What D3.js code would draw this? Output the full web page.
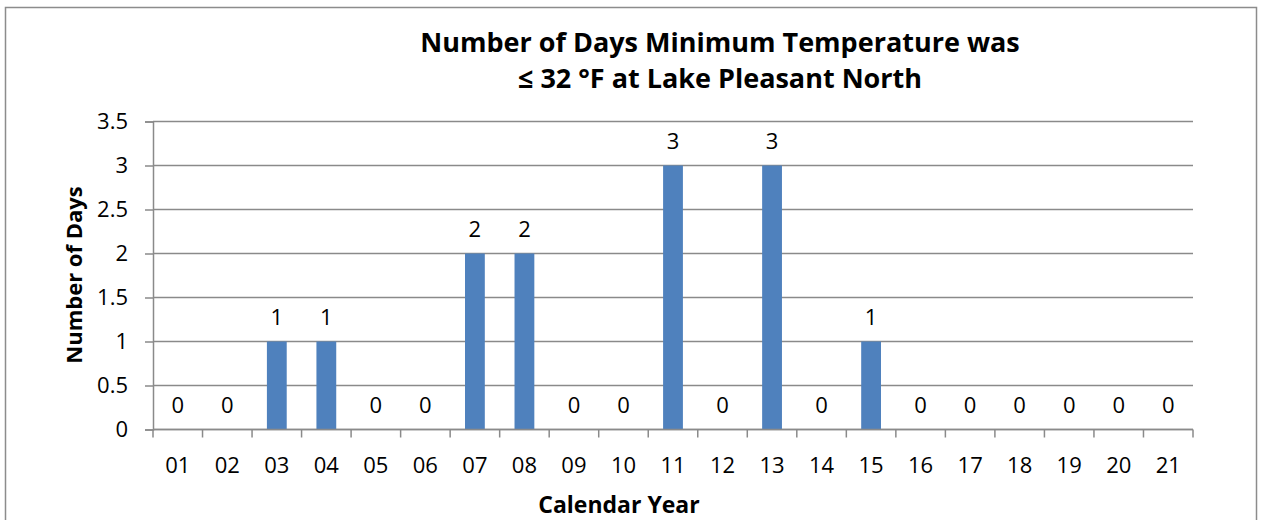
<!DOCTYPE html>
<html>
<head>
<meta charset="utf-8">
<script src="https://cdn.jsdelivr.net/npm/d3@7"></script>
<style>
    body { margin: 0; background: #fff; }
    text { font-family: "Open Sans", Calibri, sans-serif; fill: #000; }
</style>
</head>
<body>
<div class="canvas"></div>
<script>
// DATA
const years = ['01','02','03','04','05','06','07','08','09','10','11','12','13','14','15','16','17','18','19','20','21'];
const days = [0,0,1,1,0,0,2,2,0,0,3,0,3,0,1,0,0,0,0,0,0];
const yTicks = [0, 0.5, 1, 1.5, 2, 2.5, 3, 3.5];
const titleLines = ['Number of Days Minimum Temperature was', '\u2264 32 \u00B0F at Lake Pleasant North'];

const svgWidth = 1263;
const svgHeight = 520;

const svg = d3.select('.canvas')
    .append('svg')
    .attr('width', svgWidth)
    .attr('height', svgHeight);

// outer chart frame (bottom is cut off in the picture)
svg.append('rect')
    .attr('x', 5.5)
    .attr('y', 7.5)
    .attr('width', 1251)
    .attr('height', 530)
    .attr('fill', 'none')
    .attr('stroke', '#8c8c8c')
    .attr('stroke-width', 1.5);

const margin = { top: 121.5, right: 70, bottom: 90.5, left: 153 };
const graphWidth = svgWidth - margin.left - margin.right;
const graphHeight = svgHeight - margin.top - margin.bottom;

const graph = svg.append('g')
    .attr('transform', `translate(${margin.left}, ${margin.top})`);

// SCALES
const x = d3.scaleBand()
    .domain(years)
    .range([0, graphWidth])
    .paddingInner(0.6)
    .paddingOuter(0.3);

const y = d3.scaleLinear()
    .domain([0, 3.5])
    .range([graphHeight, 0]);

// gridlines
graph.append('g')
    .selectAll('line')
    .data(yTicks)
    .enter()
    .append('line')
        .attr('x1', 0)
        .attr('x2', graphWidth)
        .attr('y1', d => y(d))
        .attr('y2', d => y(d))
        .attr('stroke', '#8a8a8a')
        .attr('stroke-width', 1.5);

// bars
graph.selectAll('rect.bar')
    .data(days)
    .enter()
    .append('rect')
        .attr('class', 'bar')
        .attr('x', (d, i) => x(years[i]))
        .attr('y', d => y(d))
        .attr('width', x.bandwidth())
        .attr('height', d => graphHeight - y(d))
        .attr('fill', '#4f81bd');

// data labels
graph.selectAll('text.label')
    .data(days)
    .enter()
    .append('text')
        .attr('class', 'label')
        .attr('x', (d, i) => x(years[i]) + x.bandwidth() / 2)
        .attr('y', d => y(d) - 17)
        .attr('text-anchor', 'middle')
        .style('font-size', '22px')
        .text(d => d);

// AXES
const step = x.step();
const xAxisGroup = graph.append('g')
    .attr('transform', `translate(0, ${graphHeight})`);
xAxisGroup.append('line')
    .attr('x1', 0).attr('x2', graphWidth)
    .attr('stroke', '#8a8a8a').attr('stroke-width', 1.5);
// tick marks sit between the categories
xAxisGroup.selectAll('line.tick')
    .data(d3.range(years.length + 1))
    .enter()
    .append('line')
        .attr('class', 'tick')
        .attr('x1', i => i * step)
        .attr('x2', i => i * step)
        .attr('y1', 0)
        .attr('y2', 8)
        .attr('stroke', '#8a8a8a')
        .attr('stroke-width', 1.5);
xAxisGroup.selectAll('text')
    .data(years)
    .enter()
    .append('text')
        .attr('x', d => x(d) + x.bandwidth() / 2)
        .attr('y', 43)
        .attr('text-anchor', 'middle')
        .style('font-size', '22px')
        .text(d => d);

const yAxis = d3.axisLeft(y)
    .tickValues(yTicks)
    .tickSize(8)
    .tickPadding(17)
    .tickFormat(d => String(d));

const yAxisGroup = graph.append('g').call(yAxis);
yAxisGroup.select('.domain').attr('stroke', '#8a8a8a').attr('stroke-width', 1.5);
yAxisGroup.selectAll('.tick line').attr('stroke', '#8a8a8a').attr('stroke-width', 1.5);
yAxisGroup.selectAll('.tick text')
    .style('font-size', '22px')
    .style('font-family', '"Open Sans", Calibri, sans-serif')
    .attr('fill', '#000');

// TITLES
svg.append('g')
    .selectAll('text')
    .data(titleLines)
    .enter()
    .append('text')
        .attr('x', 720)
        .attr('y', (d, i) => 52 + i * 36)
        .attr('text-anchor', 'middle')
        .style('font-size', '27px')
        .style('font-weight', 'bold')
        .text(d => d);

svg.append('text')
    .attr('transform', 'translate(82, 275) rotate(-90)')
    .attr('text-anchor', 'middle')
    .style('font-size', '22px')
    .style('font-weight', 'bold')
    .text('Number of Days');

svg.append('text')
    .attr('x', 619)
    .attr('y', 513)
    .attr('text-anchor', 'middle')
    .style('font-size', '23px')
    .style('font-weight', 'bold')
    .text('Calendar Year');
</script>
</body>
</html>
